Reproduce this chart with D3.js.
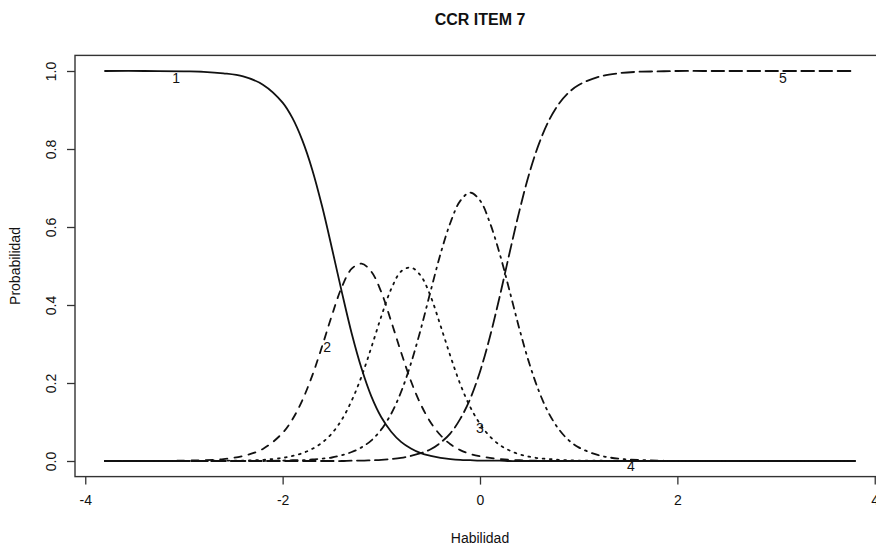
<!DOCTYPE html>
<html>
<head>
<meta charset="utf-8">
<script src="https://cdn.jsdelivr.net/npm/d3@7"></script>
<style>
body { margin: 0; background: white; }
svg text { font-family: "Liberation Sans", Arial, Helvetica, sans-serif; fill: #111; }
</style>
</head>
<body>
<svg id="chart" width="876" height="545"></svg>
<script>

let theta = [-3.8,-3.4,-3.0,-2.8,-2.6,-2.4,-2.2,-2.0,-1.9,-1.8,-1.7,-1.6,-1.5,-1.4,-1.3,-1.2,-1.1,-1.0,-0.9,-0.8,-0.7,-0.6,-0.5,-0.4,-0.3,-0.2,-0.1,0.0,0.1,0.2,0.3,0.4,0.5,0.6,0.7,0.8,0.9,1.0,1.2,1.4,1.6,1.8,2.0,2.4,2.8,3.2,3.8]

let p_cat1 = [1.000,1.000,0.999,0.998,0.994,0.986,0.965,0.919,0.879,0.822,0.747,0.653,0.545,0.433,0.327,0.237,0.165,0.112,0.075,0.049,0.032,0.020,0.013,0.008,0.005,0.003,0.002,0.001,0.001,0.001,0,0,0,0,0,0,0,0,0,0,0,0,0,0,0,0,0]
let p_cat2 = [0,0,0.001,0.002,0.005,0.013,0.031,0.072,0.107,0.156,0.219,0.294,0.374,0.446,0.493,0.506,0.485,0.433,0.358,0.279,0.205,0.145,0.099,0.066,0.043,0.028,0.018,0.012,0.008,0.005,0.003,0.002,0.001,0.001,0,0,0,0,0,0,0,0,0,0,0,0,0]
let p_cat3 = [0,0,0,0,0.001,0.001,0.003,0.008,0.013,0.020,0.031,0.047,0.071,0.106,0.155,0.217,0.292,0.371,0.441,0.486,0.496,0.475,0.422,0.347,0.269,0.197,0.139,0.095,0.063,0.041,0.027,0.017,0.011,0.007,0.005,0.003,0.002,0.001,0.001,0,0,0,0,0,0,0,0]
let p_cat4 = [0,0,0,0,0,0,0,0.001,0.002,0.002,0.004,0.006,0.009,0.015,0.023,0.035,0.053,0.081,0.121,0.177,0.250,0.338,0.436,0.531,0.611,0.667,0.688,0.668,0.611,0.531,0.436,0.338,0.250,0.177,0.121,0.081,0.053,0.035,0.015,0.006,0.003,0.001,0,0,0,0,0]
let p_cat5 = [0,0,0,0,0,0,0,0,0,0,0,0,0,0,0.001,0.001,0.002,0.003,0.005,0.008,0.013,0.020,0.030,0.047,0.071,0.108,0.159,0.229,0.318,0.422,0.534,0.642,0.738,0.815,0.874,0.916,0.945,0.964,0.985,0.994,0.998,0.999,1.000,1.000,1.000,1.000,1.000]

let categories = ["1","2","3","4","5"]
let label_theta = [-3.08,-1.55,0.0,1.53,3.07]
let label_p = [0.982,0.292,0.085,-0.013,0.982]

let x_ticks = [-4,-2,0,2,4]
let y_ticks = [0,0.2,0.4,0.6,0.8,1.0]

let all_series = [p_cat1,p_cat2,p_cat3,p_cat4,p_cat5]

// R line types, scaled by the line width
let lw = 1.8
let dash_styles = ["none", [4,4], [1,3], [1,3,4,3], [7,3]]

let margin = {left: 75, top: 55.4, right: 885, bottom: 476.6}

let svg = d3.select('#chart')

// R extends the data range by 4% on each side
let x = d3.scaleLinear()
.domain([-3.8 - 7.6*0.04, 3.8 + 7.6*0.04])
.range([margin.left, margin.right])

let y = d3.scaleLinear()
.domain([-0.04, 1.04])
.range([margin.bottom, margin.top])


let line = d3.line()
.x((d,i) => x(theta[i]))
.y(d => y(d))
.curve(d3.curveCatmullRom.alpha(0.5))

all_series.forEach((s, k) => {

let ds = dash_styles[k]

svg.append('path')
.datum(s)
.attr('d', line)
.attr('fill', 'none')
.attr('stroke', '#111')
.attr('stroke-width', lw)
.attr('stroke-linecap', 'round')
.attr('stroke-linejoin', 'round')
.attr('stroke-dasharray', ds == "none" ? null : ds.map(v => v*lw).join(' '))

})

svg.selectAll('text.cat_label')
.data(categories)
.enter()
.append('text')
.attr('class', 'cat_label')
.attr('x', (d,i) => x(label_theta[i]))
.attr('y', (d,i) => y(label_p[i]))
.attr('dy', '0.35em')
.attr('text-anchor', 'middle')
.style('font-size', '14px')
.text(d => d)


// box
svg.append('rect')
.attr('x', margin.left)
.attr('y', margin.top)
.attr('width', margin.right - margin.left)
.attr('height', margin.bottom - margin.top)
.attr('fill', 'none')
.attr('stroke', '#333')
.attr('stroke-width', 1.4)


let x_axis = svg.append('g')
.attr('transform', `translate(0,${margin.bottom})`)
.call(d3.axisBottom(x).tickValues(x_ticks).tickSize(8).tickPadding(10).tickFormat(d => String(d)))

x_axis.select('.domain').remove()

x_axis.selectAll('text')
.style('font-size', '14px')

x_axis.selectAll('line')
.attr('stroke', '#333')
.attr('stroke-width', 1.3)


let y_axis = svg.append('g')
.attr('transform', `translate(${margin.left},0)`)
.call(d3.axisLeft(y).tickValues(y_ticks).tickSize(8).tickFormat(d => d.toFixed(1)))

y_axis.select('.domain').remove()

y_axis.selectAll('line')
.attr('stroke', '#333')
.attr('stroke-width', 1.3)

y_axis.selectAll('text')
.style('font-size', '14px')
.attr('x', null)
.attr('dy', null)
.attr('text-anchor', 'middle')
.attr('transform', 'translate(-24,0) rotate(-90)')
.attr('y', 5)


svg.append('text')
.attr('x', (margin.left + margin.right)/2)
.attr('y', 25)
.attr('text-anchor', 'middle')
.style('font-size', '16px')
.style('font-weight', 'bold')
.text('CCR ITEM 7')

svg.append('text')
.attr('x', (margin.left + margin.right)/2)
.attr('y', 543)
.attr('text-anchor', 'middle')
.style('font-size', '14px')
.text('Habilidad')

svg.append('text')
.attr('transform', `translate(20,${(margin.top + margin.bottom)/2}) rotate(-90)`)
.attr('text-anchor', 'middle')
.style('font-size', '14px')
.text('Probabilidad')

</script>
</body>
</html>
